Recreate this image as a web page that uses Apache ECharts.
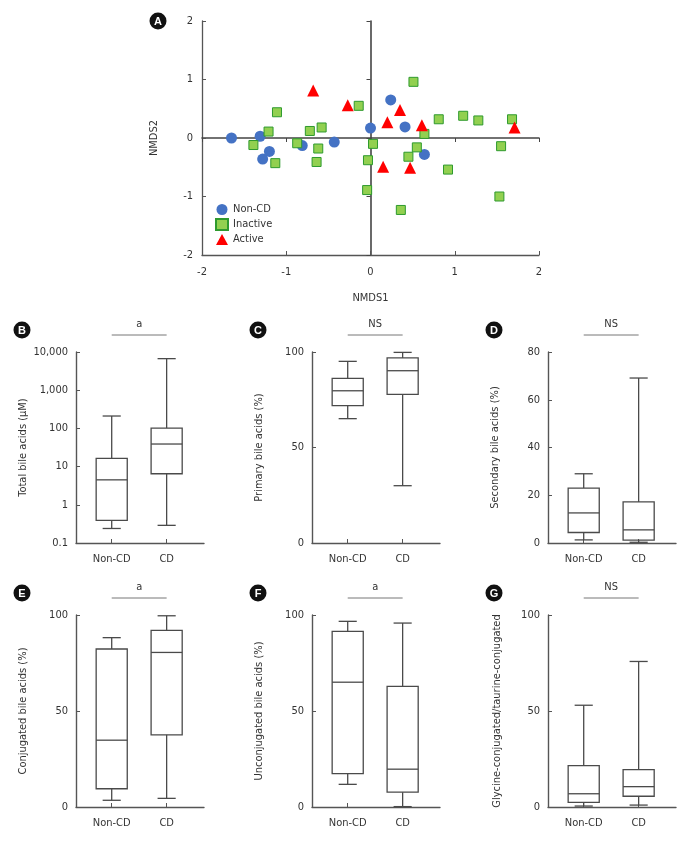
<!DOCTYPE html>
<html><head><meta charset="utf-8">
<script src="https://cdn.jsdelivr.net/npm/echarts@6/dist/echarts.min.js"></script>
<style>html,body{margin:0;padding:0;background:#fff}#c{width:688px;height:843px}</style>
</head><body><div id="c"></div>
<script>
// ---------- DATA ----------
// Panel A: NMDS coordinates [NMDS1, NMDS2]
const nonCDPoints = [[-1.65,0.0],[-1.31,0.03],[-1.20,-0.23],[-1.28,-0.36],[-0.81,-0.13],[-0.43,-0.07],[0.0,0.17],[0.24,0.65],[0.41,0.19],[0.64,-0.28]];
const inactivePoints = [[-1.11,0.44],[-1.21,0.11],[-0.72,0.12],[-0.58,0.18],[-0.14,0.55],[0.51,0.96],[0.81,0.32],[1.10,0.38],[1.28,0.30],[1.68,0.32],[0.64,0.07],
  [-1.39,-0.12],[-0.87,-0.09],[-0.62,-0.18],[-1.13,-0.43],[-0.64,-0.41],[0.03,-0.10],[-0.03,-0.38],[0.55,-0.16],[0.45,-0.32],[0.92,-0.54],[1.55,-0.14],[-0.04,-0.89],[0.36,-1.23],[1.53,-1.0]];
const activePoints = [[-0.68,0.81],[-0.27,0.56],[0.20,0.27],[0.35,0.48],[0.61,0.22],[1.71,0.18],[0.15,-0.49],[0.47,-0.51]];

// Box plots: [min, Q1, median, Q3, max]
const groups = ['Non-CD','CD'];
const totalNonCD = [0.24,0.39,4.5,16.4,211];
const totalCD = [0.29,6.5,39,102,6700];
const primaryNonCD = [65.1,71.9,79.7,86.2,95.1];
const primaryCD = [30.0,77.8,90.2,96.9,99.8];
const secondaryNonCD = [1.3,4.4,12.6,23.0,29.0];
const secondaryCD = [0.3,1.2,5.5,17.2,69.1];
const conjNonCD = [3.5,9.5,34.8,82.3,88.2];
const conjCD = [4.5,37.6,80.5,92.0,99.6];
const unconjNonCD = [11.8,17.4,65.0,91.5,96.7];
const unconjCD = [0.2,7.7,19.7,62.8,95.8];
const gtNonCD = [0.5,2.4,6.9,21.5,53.0];
const gtCD = [1.0,5.6,10.6,19.5,75.8];
const sigLabels = ['a','NS','NS','a','a','NS'];
const panelLetters = ['B','C','D','E','F','G'];
const yNames = ['Total bile acids (\u03bcM)','Primary bile acids (%)','Secondary bile acids (%)','Conjugated bile acids (%)','Unconjugated bile acids (%)','Glycine-conjugated/taurine-conjugated'];

// ---------- STYLE / LAYOUT ----------
const FONT = "'Liberation Sans Narrow','DejaVu Sans Condensed','Liberation Sans',sans-serif";
const TXT = '#333';
const AX = '#555';
const FS = 11;
const boxData = [[totalNonCD,totalCD],[primaryNonCD,primaryCD],[secondaryNonCD,secondaryCD],[conjNonCD,conjCD],[unconjNonCD,unconjCD],[gtNonCD,gtCD]];
const yCfg = [
  {type:'log', min:0.1, max:10000, logBase:10},
  {type:'value', min:0, max:100, interval:50},
  {type:'value', min:0, max:80, interval:20},
  {type:'value', min:0, max:100, interval:50},
  {type:'value', min:0, max:100, interval:50},
  {type:'value', min:0, max:100, interval:50}
];
const lefts = [76,312,548], tops = [352,615], heights = [191,192];

const chart = echarts.init(document.getElementById('c'));

const grids = [{left:202, top:21, width:337, height:234}];
const xAxes = [
  {gridIndex:0, type:'value', min:-2, max:2, interval:1, position:'bottom',
   axisLine:{onZero:false, lineStyle:{color:AX, width:1.3}}, axisTick:{inside:true, length:4, lineStyle:{color:AX}},
   axisLabel:{margin:12, fontSize:FS, color:TXT, fontFamily:FONT}, splitLine:{show:false},
   name:'NMDS1', nameLocation:'middle', nameGap:38, nameTextStyle:{fontSize:FS, color:TXT, fontFamily:FONT}},
  {gridIndex:0, type:'value', min:-2, max:2, interval:1, position:'top',
   axisLine:{onZero:true, lineStyle:{color:'#444', width:1.6}}, axisTick:{inside:true, length:4, lineStyle:{color:'#444'}},
   axisLabel:{show:false}, splitLine:{show:false}}
];
const yAxes = [
  {gridIndex:0, type:'value', min:-2, max:2, interval:1, position:'left',
   axisLine:{onZero:false, lineStyle:{color:AX, width:1.3}}, axisTick:{inside:true, length:4, lineStyle:{color:AX}},
   axisLabel:{margin:9, fontSize:FS, color:TXT, fontFamily:FONT}, splitLine:{show:false},
   name:'NMDS2', nameLocation:'middle', nameGap:42, nameTextStyle:{fontSize:FS, color:TXT, fontFamily:FONT}},
  {gridIndex:0, type:'value', min:-2, max:2, interval:1, position:'right',
   axisLine:{onZero:true, lineStyle:{color:'#444', width:1.6}}, axisTick:{inside:true, length:4, lineStyle:{color:'#444'}},
   axisLabel:{show:false}, splitLine:{show:false}}
];
const series = [
  {name:'Non-CD', type:'scatter', xAxisIndex:0, yAxisIndex:0, data:nonCDPoints, symbol:'circle', symbolSize:11,
   itemStyle:{color:'#4472C4', opacity:1}, z:3},
  {name:'Inactive', type:'scatter', xAxisIndex:0, yAxisIndex:0, data:inactivePoints, symbol:'rect', symbolSize:9,
   itemStyle:{color:'#92D050', borderColor:'#2E9A2E', borderWidth:1, opacity:1}, z:4},
  {name:'Active', type:'scatter', xAxisIndex:0, yAxisIndex:0, data:activePoints, symbol:'triangle', symbolSize:12,
   itemStyle:{color:'#FF0000', opacity:1}, z:5}
];

function renderBox(params, api) {
  const x = api.value(0);
  const p = [1,2,3,4,5].map(i => api.coord([x, api.value(i)]));
  const unit = api.coord([x + 1, api.value(3)])[0] - p[2][0];
  const half = unit * 0.283, cap = unit * 0.165;
  const cx = p[2][0];
  const [mn, q1, md, q3, mx] = p.map(v => v[1]);
  const st = {stroke:'#4a4a4a', lineWidth:1.3, fill:null};
  return {type:'group', children:[
    {type:'rect', shape:{x:cx-half, y:q3, width:2*half, height:q1-q3}, style:{stroke:'#4a4a4a', lineWidth:1.3, fill:'rgba(0,0,0,0)'}},
    {type:'line', shape:{x1:cx-half, y1:md, x2:cx+half, y2:md}, style:st},
    {type:'line', shape:{x1:cx, y1:q3, x2:cx, y2:mx}, style:st},
    {type:'line', shape:{x1:cx, y1:q1, x2:cx, y2:mn}, style:st},
    {type:'line', shape:{x1:cx-cap, y1:mx, x2:cx+cap, y2:mx}, style:st},
    {type:'line', shape:{x1:cx-cap, y1:mn, x2:cx+cap, y2:mn}, style:st}
  ]};
}

for (let i = 0; i < 6; i++) {
  const col = i % 3, row = Math.floor(i / 3);
  const g = i + 1;        // grid index
  const ax = i + 2;       // axis index (grid 0 has two x and two y axes)
  grids.push({left:lefts[col], top:tops[row], width:128, height:heights[row]});
  xAxes.push({gridIndex:g, type:'value', min:-0.65, max:1.68,
    axisLine:{onZero:false, lineStyle:{color:AX, width:1.4}},
    axisTick:{inside:true, length:4, customValues:[0,1], lineStyle:{color:AX}},
    axisLabel:{customValues:[0,1], formatter:v => groups[Math.round(v)], margin:11, fontSize:FS, color:TXT, fontFamily:FONT},
    splitLine:{show:false}});
  const yc = yCfg[i];
  const isLog = yc.type === 'log';
  const ya = Object.assign({gridIndex:g,
    axisLine:{onZero:false, lineStyle:{color:AX, width:1.4}},
    axisTick:{inside:true, length:4, lineStyle:{color:AX}},
    axisLabel:{margin:8, fontSize:FS, color:TXT, fontFamily:FONT,
      formatter: isLog ? (v => v < 1 ? String(Math.round(v*10)/10) : Math.round(v).toLocaleString('en-US')) : (v => String(v))},
    minorTick:{show:false}, splitLine:{show:false},
    name:yNames[i], nameLocation:'middle', nameGap:i===5?45:47,
    nameTextStyle:{fontSize:FS, color:TXT, fontFamily:FONT}}, yc);
  yAxes.push(ya);
  series.push({type:'custom', xAxisIndex:ax, yAxisIndex:ax, renderItem:renderBox,
    encode:{x:0, y:[1,2,3,4,5]}, silent:true,
    data:[[0].concat(boxData[i][0]), [1].concat(boxData[i][1])]});
}

chart.setOption({
  animation:false,
  textStyle:{fontFamily:FONT},
  grid:grids, xAxis:xAxes, yAxis:yAxes, series:series,
  legend:{data:['Non-CD','Inactive','Active'], orient:'vertical', left:210, top:199,
    itemWidth:12, itemHeight:11, itemGap:3, selectedMode:false,
    textStyle:{fontSize:FS, color:TXT, fontFamily:FONT}}
});

// annotations: panel badges and significance bars
const gfx = [];
function badge(letter, cx, cy) {
  gfx.push({type:'circle', shape:{cx:cx, cy:cy, r:8.5}, style:{fill:'#111'}, silent:true});
  gfx.push({type:'text', x:cx, y:cy+0.5, style:{text:letter, fill:'#fff', fontSize:11, fontWeight:'bold', fontFamily:'Liberation Sans, sans-serif', align:'center', verticalAlign:'middle'}, silent:true});
}
badge('A', 158, 21);
for (let i = 0; i < 6; i++) {
  const col = i % 3, row = Math.floor(i / 3);
  const ax = i + 2;
  const top = tops[row];
  badge(panelLetters[i], lefts[col] - 54, top - 22);
  const x0 = chart.convertToPixel({xAxisIndex:ax}, 0);
  const x1 = chart.convertToPixel({xAxisIndex:ax}, 1);
  gfx.push({type:'line', shape:{x1:x0, y1:top-17, x2:x1, y2:top-17}, style:{stroke:'#777', lineWidth:1}, silent:true});
  gfx.push({type:'text', x:(x0+x1)/2, y:top-28, style:{text:sigLabels[i], fill:TXT, fontSize:11, fontFamily:FONT, align:'center', verticalAlign:'middle'}, silent:true});
}
chart.setOption({graphic:gfx});
</script></body></html>
